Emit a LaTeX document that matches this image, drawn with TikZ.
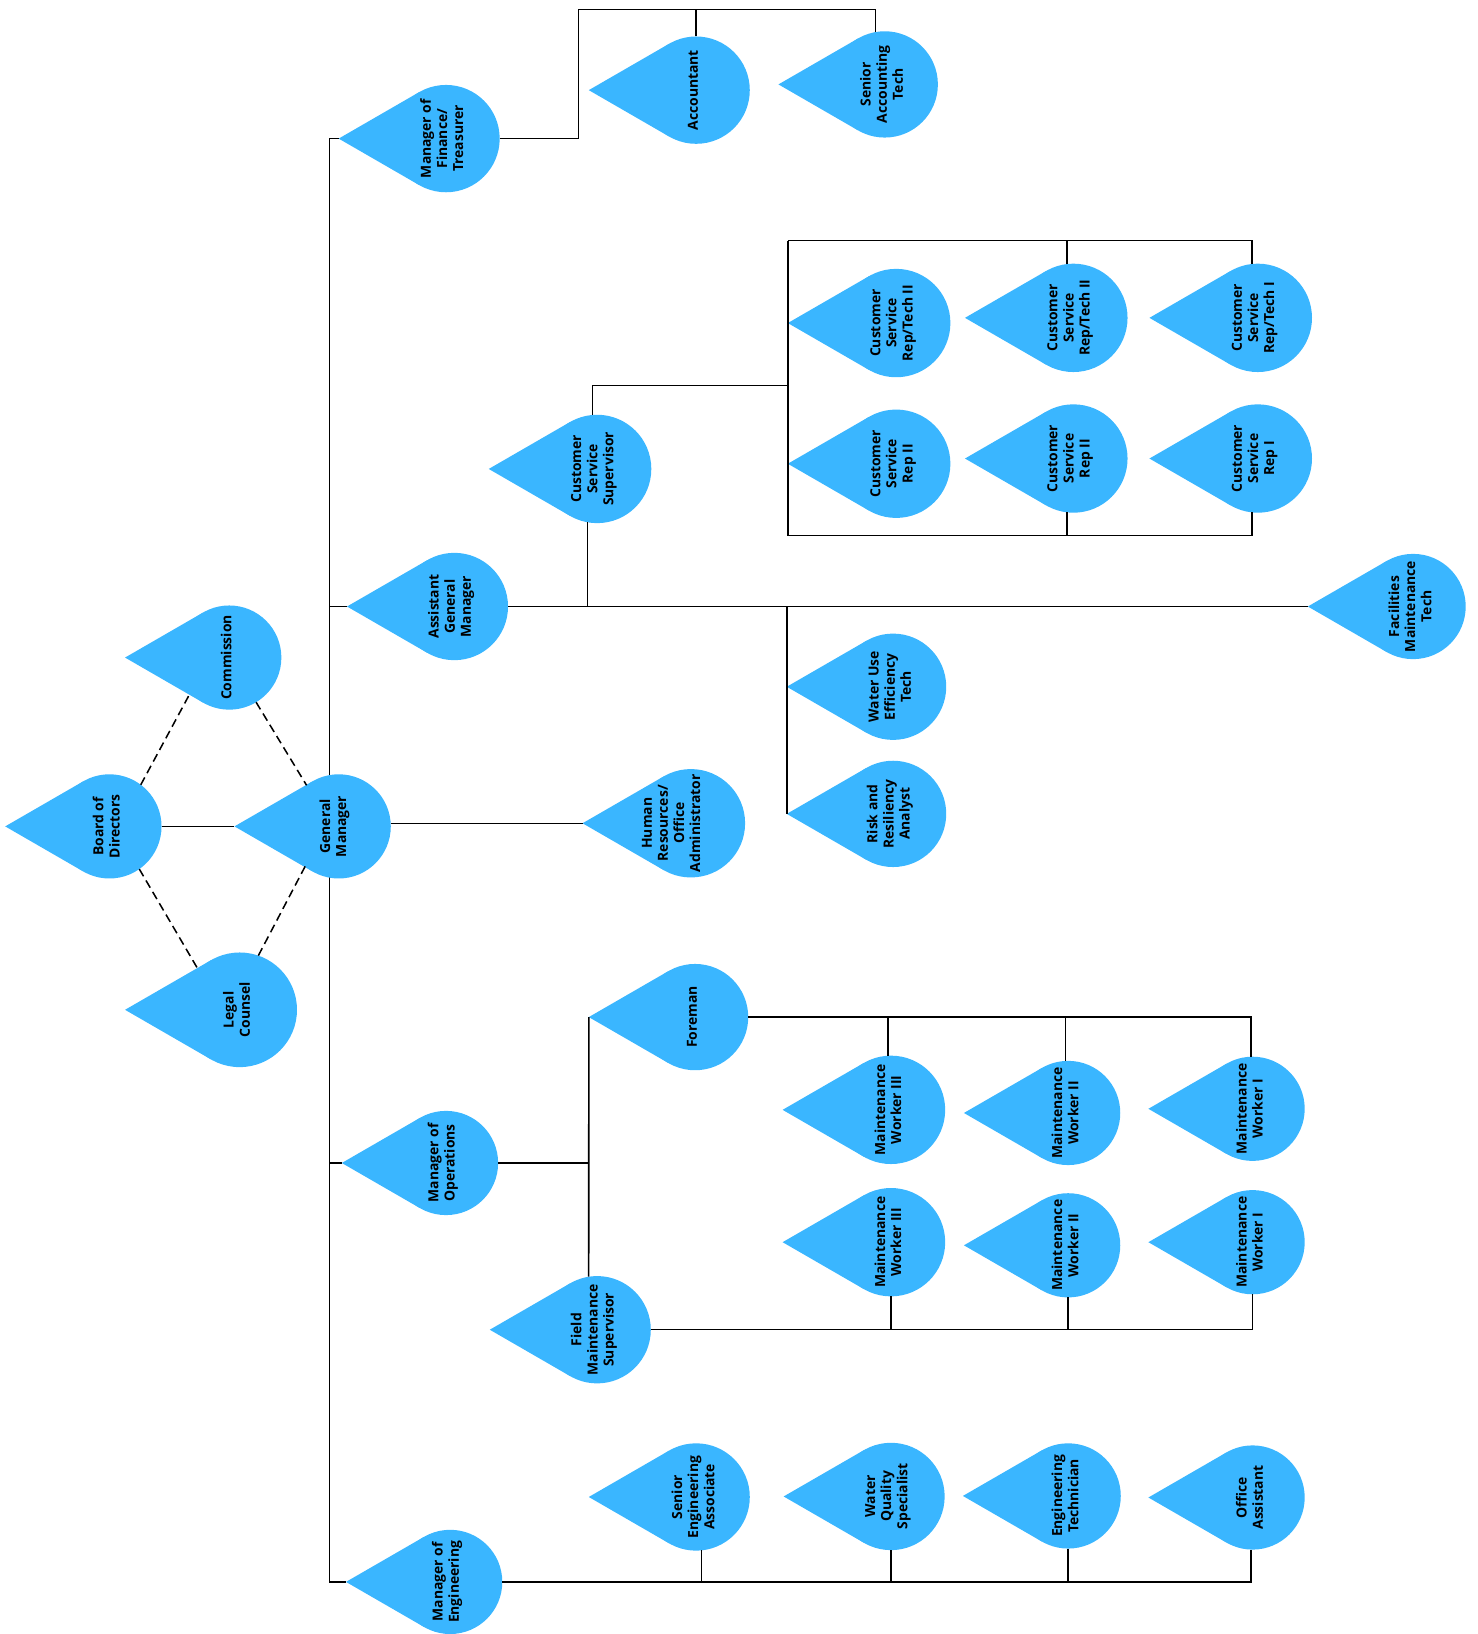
\documentclass[tikz,border=0pt]{standalone}
\usepackage{fontspec}
\setmainfont{Open Sans}
\definecolor{dropblue}{HTML}{3AB6FF}
\tikzset{
  bulb/.style={circle, fill=dropblue, draw=none, inner sep=0pt, outer sep=0pt},
  lbl/.style={rotate=90, align=center, inner sep=0pt, text=black,
    font=\bfseries\fontsize{10}{11.6}\selectfont},
  conn/.style={line width=1.1pt, black},
  dconn/.style={line width=1.1pt, black, dash pattern=on 6pt off 3.5pt}
}
% [label x offset]{name}{cx}{cy}{r}{text}
\newcommand\tdrop[6][-3]{%
  \fill[dropblue] ({#3-2*#5},#4) -- ({#3-0.5*#5},{#4-0.866*#5}) -- ({#3-0.5*#5},{#4+0.866*#5}) -- cycle;
  \node[bulb, minimum size={1.5pt*#5}] (#2) at (#3,#4) {};
  \coordinate (#2-tip) at ({#3-2*#5},#4);
  \node[lbl] (#2-l) at ({#3+#1},#4) {#6};
}
\begin{document}
\begin{tikzpicture}[x=0.75pt,y=-0.75pt]
\useasboundingbox (0,0) rectangle (1418,1568);
% trunk coordinates
\coordinate (trunkTop) at (316,133);
\coordinate (trunkBot) at (316,1518);
\coordinate (finA) at (555,9);
\coordinate (csV) at (756,370);
\coordinate (csTL) at (756,231);
\coordinate (csBL) at (756,514);
% trunk drawn first (under shapes)
\draw[conn] (trunkTop) -- (trunkBot);
% nodes
\tdrop{bod}{105}{793}{50}{Board of\\Directors}
\tdrop[-4]{gm}{325}{793}{50}{General\\Manager}
\tdrop{com}{220}{631}{50}{Commission}
\tdrop{lc}{230}{969}{55}{Legal\\Counsel}
\tdrop[-4]{fin}{428}{133}{51.5}{Manager of\\Finance/\\Treasurer}
\tdrop{acc}{668}{86.5}{51.5}{Accountant}
\tdrop{sat}{849}{81}{51}{Senior\\Accounting\\Tech}
\tdrop{agm}{436}{582}{51.5}{Assistant\\General\\Manager}
\tdrop{css}{573}{450}{52}{Customer\\Service\\Supervisor}
\tdrop{c1}{860}{310}{52}{Customer\\Service\\Rep/Tech II}
\tdrop{c2}{1030}{305}{52}{Customer\\Service\\Rep/Tech II}
\tdrop{c3}{1207}{305}{52}{Customer\\Service\\Rep/Tech I}
\tdrop{c4}{860}{445}{52}{Customer\\Service\\Rep II}
\tdrop{c5}{1030}{440}{52}{Customer\\Service\\Rep II}
\tdrop{c6}{1207}{440}{52}{Customer\\Service\\Rep I}
\tdrop{fmt}{1356}{582}{50.5}{Facilities\\Maintenance\\Tech}
\tdrop{wue}{857}{659}{51}{Water Use\\Efficiency\\Tech}
\tdrop{rra}{857}{781}{51}{Risk and\\Resiliency\\Analyst}
\tdrop[-19]{hr}{663}{790}{52}{Human\\Resources/\\Office\\Administrator}
\tdrop{moo}{428}{1116}{50}{Manager of\\Operations}
\tdrop{fore}{667}{976}{51}{Foreman}
\tdrop{mw3a}{855}{1065}{52}{Maintenance\\Worker III}
\tdrop{mw2a}{1025}{1068}{50}{Maintenance\\Worker II}
\tdrop{mw1a}{1202}{1064}{50}{Maintenance\\Worker I}
\tdrop{mw3b}{855}{1192}{52}{Maintenance\\Worker III}
\tdrop{mw2b}{1025}{1195}{50}{Maintenance\\Worker II}
\tdrop{mw1b}{1202}{1192}{50}{Maintenance\\Worker I}
\tdrop{fms}{573}{1276}{51.5}{Field\\Maintenance\\Supervisor}
\tdrop{moe}{432}{1518}{50}{Manager of\\Engineering}
\tdrop{sea}{668}{1436.5}{51.5}{Senior\\Engineering\\Associate}
\tdrop{wqs}{855}{1436}{51.5}{Water\\Quality\\Specialist}
\tdrop{et}{1025}{1435.5}{50.5}{Engineering\\Technician}
\tdrop{oa}{1202}{1437}{50}{Office\\Assistant}
% top-level connectors
\draw[conn] (bod.east) -- (gm-tip);
\draw[dconn] (bod.53) -- (com.222);
\draw[dconn] (com.301) -- (gm.128);
\draw[dconn] (bod.305) -- (lc.136);
\draw[dconn] (lc.71) -- (gm.230);
\draw[conn] (trunkTop) -- (fin-tip);
\draw[conn] (agm-tip -| trunkTop) -- (agm-tip);
\draw[conn] (moo-tip -| trunkTop) -- (moo-tip);
\draw[conn] (trunkBot) -- (moe-tip);
\draw[conn] (hr-tip -| gm.east) -- (hr-tip);
% finance
\draw[conn] (fin.east) -| (finA) -| (sat.100);
\draw[conn] (acc.north) -- (acc.north |- finA);
% assistant GM
\draw[conn] (agm.east) -- (fmt-tip);
\draw[conn] (css.260) -- (css.260 |- agm.east);
\draw[conn] (css.95) |- (csV);
\draw[conn] (csTL) -- (csBL);
\draw[conn] (csTL) -| (c3.96);
\draw[conn] (c2.97) -- (c2.97 |- csTL);
\draw[conn] (csBL) -| (c6.264);
\draw[conn] (c5.263) -- (c5.263 |- csBL);
\draw[conn] (rra-tip) -- (rra-tip |- agm.east);
% operations
\draw[conn] (moo.east) -- (moo.east -| fore-tip);
\draw[conn] (fore-tip) -- (fms.99);
\draw[conn] (fore.east) -| (mw1a.92);
\draw[conn] (mw3a.93) -- (mw3a.93 |- fore.east);
\draw[conn] (mw2a.93) -- (mw2a.93 |- fore.east);
\draw[conn] (fms.east) -| (mw1b.south);
\draw[conn] (mw3b.south) -- (mw3b.south |- fms.east);
\draw[conn] (mw2b.south) -- (mw2b.south |- fms.east);
% engineering
\draw[conn] (moe.east) -| (oa.268);
\draw[conn] (sea.276) -- (sea.276 |- moe.east);
\draw[conn] (wqs.south) -- (wqs.south |- moe.east);
\draw[conn] (et.south) -- (et.south |- moe.east);
\end{tikzpicture}
\end{document}
